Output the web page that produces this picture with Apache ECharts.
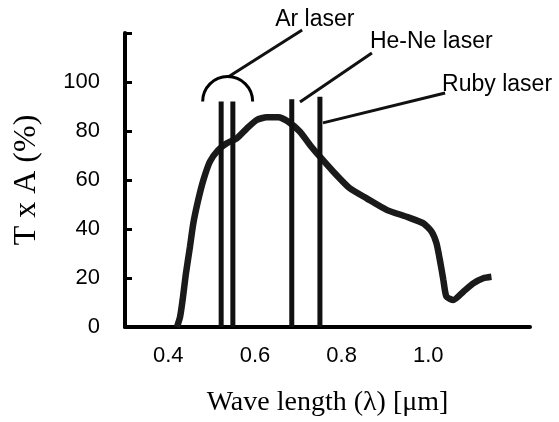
<!DOCTYPE html>
<html>
<head>
<meta charset="utf-8">
<script src="https://cdn.jsdelivr.net/npm/echarts@6/dist/echarts.min.js"></script>
<style>
html, body { margin: 0; padding: 0; background: #fff; }
#main { width: 559px; height: 422px; }
</style>
</head>
<body>
<div id="main"></div>
<script>
// T x A curve (wavelength in um, value in %)
var waveLen = [0.42, 0.427, 0.433, 0.44, 0.45, 0.4577, 0.469, 0.481, 0.496, 0.515, 0.535, 0.558, 0.581, 0.604, 0.627,
    0.654, 0.677, 0.704, 0.727, 0.75, 0.781, 0.819, 0.858, 0.904, 0.95, 0.989, 1.008, 1.019, 1.027, 1.035,
    1.042, 1.058, 1.081, 1.104, 1.127, 1.146];
var txa = [0, 4, 11, 21, 32.8, 42.3, 51.8, 60, 67.5, 72.2, 75, 77, 81, 84.5, 85.6,
    85.6, 83.8, 79.7, 74.3, 69.5, 63.4, 56.6, 52.5, 47.8, 45, 42.3, 38.9, 34.2, 27.3, 19.2,
    12.4, 11, 14.4, 17.8, 19.9, 20.5];

// laser emission lines
var laserWave = [0.522, 0.549, 0.685, 0.750];
var laserTop = [92, 92, 93, 94];

// callouts: point on the figure -> label end
var calloutText = ['Ar laser', 'He-Ne laser', 'Ruby laser'];
var calloutFrom = [[0.538, 102], [0.704, 91.8], [0.757, 83.3]];
var calloutTo = [[0.709, 121.2], [0.870, 111.8], [1.039, 95.5]];
var arCenter = [0.537, 92];

var xTicks = ['0.4', '0.6', '0.8', '1.0'];
var yTicks = ['0', '20', '40', '60', '80', '100'];

var chart = echarts.init(document.getElementById('main'));

var labelPos = [[-27, -10], [-2, -11], [-3, -8]];

var series = [];
series.push({
    type: 'line',
    data: waveLen.map(function (x, i) { return [x, txa[i]]; }),
    showSymbol: false,
    smooth: 0.2,
    lineStyle: { width: 6.5, color: '#1a1a1a' },
    z: 3
});
laserWave.forEach(function (x, i) {
    series.push({
        type: 'line',
        data: [[x, 0], [x, laserTop[i]]],
        showSymbol: false,
        lineStyle: { width: 5, color: '#111' },
        z: 4
    });
});
calloutText.forEach(function (t, i) {
    series.push({
        type: 'line',
        clip: false,
        symbol: 'circle',
        symbolSize: 0,
        showSymbol: true,
        lineStyle: { width: 3, color: '#111' },
        data: [
            { value: calloutFrom[i] },
            {
                value: calloutTo[i],
                label: {
                    show: true,
                    formatter: t,
                    position: labelPos[i],
                    align: 'left',
                    verticalAlign: 'middle',
                    fontFamily: 'Liberation Sans',
                    fontSize: 23,
                    color: '#000'
                }
            }
        ],
        z: 5
    });
});

var option = {
    animation: false,
    grid: { left: 125, right: 29, top: 33, bottom: 95 },
    xAxis: {
        type: 'value',
        min: 0.3,
        max: 1.235,
        interval: 0.1,
        name: 'Wave length (λ) [μm]',
        nameLocation: 'middle',
        nameGap: 62,
        nameTextStyle: { fontFamily: 'Liberation Serif', fontSize: 28, color: '#000' },
        axisLine: { lineStyle: { color: '#000', width: 4 } },
        axisTick: { show: false },
        splitLine: { show: false },
        axisLabel: {
            margin: 18,
            fontFamily: 'Liberation Sans',
            fontSize: 22,
            color: '#000',
            formatter: function (v) {
                var s = v.toFixed(1);
                return (xTicks.indexOf(s) >= 0 && Math.abs(v - parseFloat(s)) < 1e-6) ? s : '';
            }
        }
    },
    yAxis: {
        type: 'value',
        min: 0,
        max: 120,
        interval: 20,
        name: 'T x A (%)',
        nameLocation: 'middle',
        nameRotate: 90,
        nameGap: 82,
        nameTextStyle: { fontFamily: 'Liberation Serif', fontSize: 32, color: '#000' },
        axisLine: { lineStyle: { color: '#000', width: 4 } },
        axisTick: { show: true, inside: true, length: 7, lineStyle: { color: '#000', width: 3 } },
        splitLine: { show: false },
        axisLabel: {
            margin: 25,
            fontFamily: 'Liberation Sans',
            fontSize: 22,
            color: '#000',
            formatter: function (v) {
                var s = String(Math.round(v));
                return yTicks.indexOf(s) >= 0 ? s : '';
            }
        }
    },
    series: series
};

chart.setOption(option);

// arc over the two Ar lines
var c = chart.convertToPixel({ gridIndex: 0 }, arCenter);
chart.setOption({
    graphic: [{
        type: 'arc',
        shape: { cx: c[0], cy: c[1], r: 25, startAngle: Math.PI, endAngle: 2 * Math.PI, clockwise: true },
        style: { stroke: '#000', lineWidth: 3, fill: 'none' },
        z: 10
    }]
});
</script>
</body>
</html>
